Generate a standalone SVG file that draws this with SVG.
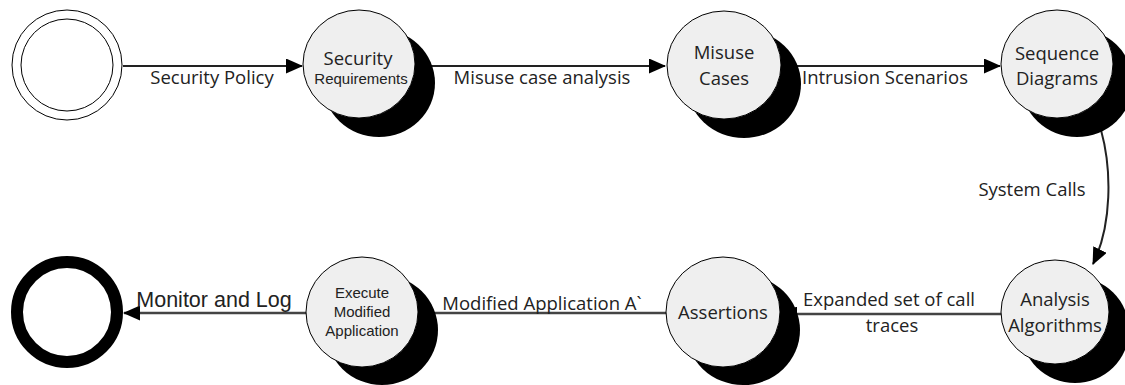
<svg xmlns="http://www.w3.org/2000/svg" width="1125" height="385" viewBox="0 0 1125 385">
<defs>
<style>
.node{fill:#efefef;stroke:#000;stroke-width:1}
.shadow{fill:#000}
.lbl{font-family:"Open Sans","Liberation Sans",sans-serif;font-size:18.5px;fill:#222;text-anchor:middle}
.ar{font-family:"Liberation Sans",Arial,sans-serif;fill:#222;text-anchor:middle}
.edge{fill:none;stroke:#222;stroke-width:2}
.edge2{fill:none;stroke:#444;stroke-width:2.5}
</style>
<marker id="arr" markerWidth="17" markerHeight="15" refX="16" refY="7.5" orient="auto" markerUnits="userSpaceOnUse">
<path d="M0,0 L17,7.5 L0,15 Z" fill="#000"/>
</marker>
</defs>
<rect width="1125" height="385" fill="#fff"/>
<g id="connectors">
<line class="edge" x1="123" y1="66" x2="302" y2="66" marker-end="url(#arr)"/>
<line class="edge" x1="415" y1="66" x2="665" y2="66" marker-end="url(#arr)"/>
<line class="edge" x1="782" y1="66" x2="1000" y2="66" marker-end="url(#arr)"/>
<path class="edge" d="M1101,130 C1112,170 1112,225 1093,264" marker-end="url(#arr)"/>
<line class="edge2" x1="1002" y1="314" x2="781" y2="314" marker-end="url(#arr)"/>
<line class="edge2" x1="667" y1="313" x2="418" y2="313"/>
<line class="edge2" x1="307" y1="313" x2="124" y2="313" marker-end="url(#arr)"/>
<text class="lbl" x="212" y="84">Security Policy</text>
<text class="lbl" x="542" y="84">Misuse case analysis</text>
<text class="lbl" x="885" y="84">Intrusion Scenarios</text>
<text class="lbl" x="1032" y="196">System Calls</text>
<text class="lbl" x="889" y="306">Expanded set of call</text>
<text class="lbl" x="892" y="332">traces</text>
<text class="lbl" x="542" y="310">Modified Application A`</text>
<text class="ar" x="214" y="307" font-size="21.5">Monitor and Log</text>
</g>
<g id="start">
<circle cx="67" cy="65" r="55" fill="#fff" stroke="#000" stroke-width="1"/>
<circle cx="67" cy="65" r="46" fill="#fff" stroke="#000" stroke-width="1"/>
</g>
<g id="security-requirements">
<ellipse class="shadow" cx="379" cy="83" rx="56" ry="54"/>
<ellipse class="node" cx="359" cy="64" rx="56" ry="54"/>
<text class="lbl" x="358" y="65">Security</text>
<text class="ar" x="361" y="84" font-size="15">Requirements</text>
</g>
<g id="misuse-cases">
<ellipse class="shadow" cx="744" cy="84" rx="57" ry="54"/>
<ellipse class="node" cx="724" cy="65" rx="57" ry="54"/>
<text class="lbl" x="724" y="59">Misuse</text>
<text class="lbl" x="724" y="85">Cases</text>
</g>
<g id="sequence-diagrams">
<ellipse class="shadow" cx="1077" cy="83" rx="56" ry="54"/>
<ellipse class="node" cx="1057" cy="64" rx="56" ry="54"/>
<text class="lbl" x="1057" y="60">Sequence</text>
<text class="lbl" x="1057" y="85">Diagrams</text>
</g>
<g id="analysis-algorithms">
<ellipse class="shadow" cx="1075" cy="330" rx="54" ry="53"/>
<ellipse class="node" cx="1055" cy="312" rx="54" ry="52"/>
<text class="lbl" x="1055" y="306">Analysis</text>
<text class="lbl" x="1055" y="332">Algorithms</text>
</g>
<g id="assertions">
<ellipse class="shadow" cx="743" cy="330" rx="57" ry="55"/>
<ellipse class="node" cx="723" cy="312" rx="57" ry="55"/>
<text class="lbl" x="723" y="319">Assertions</text>
</g>
<g id="execute-modified-application">
<ellipse class="shadow" cx="382" cy="330" rx="56" ry="55"/>
<ellipse class="node" cx="362" cy="312" rx="56" ry="55"/>
<text class="ar" x="362" y="298" font-size="15">Execute</text>
<text class="ar" x="362" y="317" font-size="15">Modified</text>
<text class="ar" x="362" y="336" font-size="15">Application</text>
</g>
<g id="end">
<circle cx="67" cy="312" r="50" fill="#fff" stroke="#000" stroke-width="12"/>
</g>
</svg>
